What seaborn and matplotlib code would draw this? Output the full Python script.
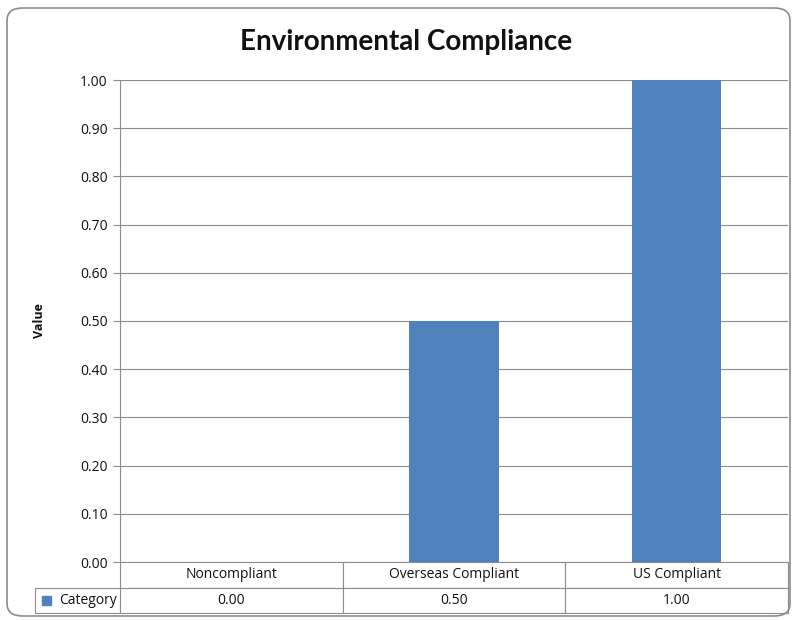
import numpy as np
import pandas as pd
import matplotlib
matplotlib.use("Agg")
import matplotlib.pyplot as plt
from matplotlib.patches import FancyBboxPatch, Rectangle
import seaborn as sns

# data
categories = ["Noncompliant", "Overseas Compliant", "US Compliant"]
values = [0.00, 0.50, 1.00]
series_name = "Category"
y_ticks = [0.0, 0.1, 0.2, 0.3, 0.4, 0.5, 0.6, 0.7, 0.8, 0.9, 1.0]

df = pd.DataFrame({"category": categories, "value": values})

sns.set_style("white")
plt.rcParams["font.family"] = ["Open Sans", "DejaVu Sans"]

bar_color = "#4F81BD"
grid_color = "#8C8C8C"

fig = plt.figure(figsize=(7.94, 6.2), dpi=100)

# rounded chart frame
frame = FancyBboxPatch((7 / 794, 4 / 620), 783 / 794, 608 / 620,
                       boxstyle="round,pad=0,rounding_size=0.02",
                       transform=fig.transFigure, fill=False,
                       edgecolor="#8C8C8C", linewidth=1.2, zorder=0)
fig.patches.append(frame)

ax = fig.add_axes([120 / 794, 58 / 620, 668 / 794, 482 / 620])
sns.barplot(data=df, x="category", y="value", color=bar_color, width=0.4,
            saturation=1, linewidth=0, ax=ax, zorder=3)

ax.set_ylim(0, 1)
ax.set_xlim(-0.5, 2.5)
ax.set_yticks(y_ticks)
ax.set_yticklabels([f"{t:.2f}" for t in y_ticks], fontsize=10, color="#111111")
ax.yaxis.grid(True, color=grid_color, linewidth=0.8)
ax.set_axisbelow(True)
ax.tick_params(axis="y", length=5, color=grid_color, pad=4, left=True)
ax.set_xticks([])
ax.set_xlabel("")
ax.set_ylabel("Value", fontsize=9, fontweight="bold", color="#111111")
ax.yaxis.set_label_coords(-74 / 668, 0.5)
for s in ["top", "right", "bottom"]:
    ax.spines[s].set_visible(False)
ax.spines["left"].set_color(grid_color)
ax.spines["left"].set_linewidth(0.8)

fig.text(406 / 794, 1 - 42 / 620, "Environmental Compliance", fontsize=20,
         fontweight="bold", family=["Lato", "DejaVu Sans"], color="#111111",
         ha="center", va="center")

# data table below the plot
label_w = 85 / 668
tbl_h = 51 / 482
cell_text = [[""] + categories,
             [series_name] + [f"{v:.2f}" for v in values]]
col_w = [label_w] + [1 / 3] * 3
tbl = ax.table(cellText=cell_text, colWidths=col_w, cellLoc="center",
               bbox=[-label_w, -tbl_h, 1 + label_w, tbl_h])
tbl.auto_set_font_size(False)
for (r, c), cell in tbl.get_celld().items():
    cell.set_edgecolor(grid_color)
    cell.set_linewidth(0.8)
    cell.get_text().set_fontsize(10)
    cell.get_text().set_color("#111111")
    if r == 0 and c == 0:
        cell.visible_edges = ""
tbl[1, 0].get_text().set_ha("right")
tbl[1, 0]._loc = "right"
tbl[1, 0].PAD = 0.04

# legend key in the table
ax.add_patch(Rectangle((-label_w + 7 / 668, -tbl_h + 8 / 482), 9 / 668, 9 / 482,
                       transform=ax.transAxes, color=bar_color, clip_on=False))

fig.savefig("out.png", dpi=100)
